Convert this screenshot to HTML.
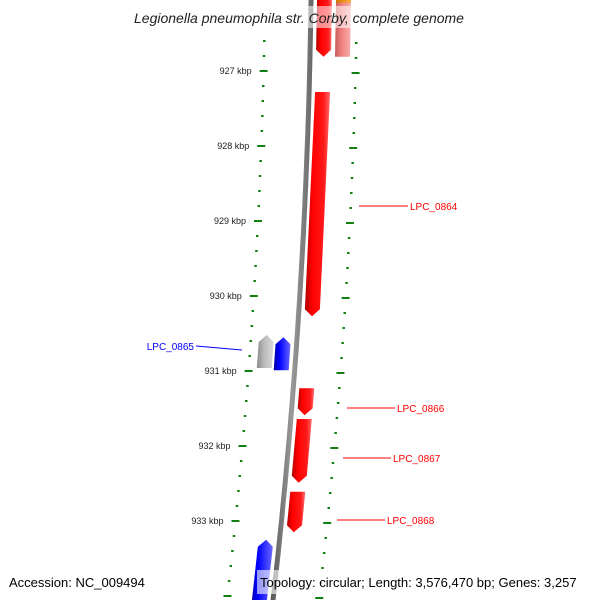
<!DOCTYPE html>
<html><head><meta charset="utf-8"><style>
body{margin:0;background:#fff}
svg{display:block;font-family:"Liberation Sans",sans-serif}
</style></head><body>
<svg id="map" width="600" height="600" viewBox="0 0 600 600">
<defs>
<linearGradient id="gRed" x1="0" x2="1"><stop offset="0" stop-color="#b00000"/><stop offset="0.3" stop-color="#ff0000"/><stop offset="0.75" stop-color="#ff1a1a"/><stop offset="1" stop-color="#ff7070"/></linearGradient>
<linearGradient id="gPink" x1="0" x2="1"><stop offset="0" stop-color="#c85a5a"/><stop offset="0.4" stop-color="#f08080"/><stop offset="1" stop-color="#f8b0b0"/></linearGradient>
<linearGradient id="gBlue" x1="0" x2="1"><stop offset="0" stop-color="#0000a0"/><stop offset="0.35" stop-color="#0000ff"/><stop offset="1" stop-color="#6a6aff"/></linearGradient>
<linearGradient id="gGray" x1="0" x2="1"><stop offset="0" stop-color="#8a8a8a"/><stop offset="0.4" stop-color="#b8b8b8"/><stop offset="1" stop-color="#dcdcdc"/></linearGradient>
<linearGradient id="gOrange" x1="0" x2="1"><stop offset="0" stop-color="#d07000"/><stop offset="1" stop-color="#ffb040"/></linearGradient>
<linearGradient id="gBack" x1="0" x2="1"><stop offset="0" stop-color="#555"/><stop offset="0.5" stop-color="#999"/><stop offset="1" stop-color="#666"/></linearGradient>
</defs>
<g id="layer"></g>
<rect x="110" y="6" width="380" height="22" fill="#fff" fill-opacity="0.55"/>
<text x="299" y="23" text-anchor="middle" font-size="14" font-style="italic" fill="#222">Legionella pneumophila str. Corby, complete genome</text>
<text x="9" y="587" font-size="13" fill="#000">Accession: NC_009494</text>
<rect x="257" y="570" width="336" height="24" fill="#fff" fill-opacity="0.6"/>
<text x="260" y="587" font-size="13" fill="#000">Topology: circular; Length: 3,576,470 bp; Genes: 3,257</text>
</svg>
<script>
// data (kbp)
const geneNames = ["gene-top","gene-top-ring2","gene-top-orange","LPC_0864","LPC_0866","LPC_0867","LPC_0868","LPC_0865","gene-gray","gene-bottom"];
const geneStart = [926.0, 926.0, 926.0, 927.28, 931.23, 931.64, 932.61, 930.55, 930.52, 933.25];
const geneEnd   = [926.81, 926.81, 926.09, 930.27, 931.59, 932.49, 933.15, 930.99, 930.96, 934.3];
const geneStrand= [1,1,1,1,1,1,1,-1,-1,-1];
const geneRing  = [0,1,1,0,0,0,0,0,1,0];
const geneColor = ["gRed","gPink","gOrange","gRed","gRed","gRed","gRed","gBlue","gGray","gBlue"];
const geneLabeled=[false,false,false,true,true,true,true,true,false,false];
const tickLabels = ["927 kbp","928 kbp","929 kbp","930 kbp","931 kbp","932 kbp","933 kbp"];
const tickValues = [927,928,929,930,931,932,933];

const yOf = k => 71 + (k-927)*75;
const B = y => 311 - 0.0133*y - 8.33e-5*y*y;
const NS="http://www.w3.org/2000/svg";
const layer=document.getElementById('layer');
function mk(t,a){const e=document.createElementNS(NS,t);for(const k in a)e.setAttribute(k,a[k]);layer.appendChild(e);return e;}

// backbone
let pts=[];for(let y=-5;y<=605;y+=10)pts.push((B(y)-2.5).toFixed(1)+","+y);
for(let y=605;y>=-5;y-=10)pts.push((B(y)+2.5).toFixed(1)+","+y);
const bb=mk('polygon',{points:pts.join(' '),fill:'url(#gBack)'});



// ticks
for(let k=925.6;k<=934.4;k+=0.2){
  const kk=Math.round(k*10)/10;const y=yOf(kk);
  if(y<30||y>598)continue;
  const major=Math.abs(kk-Math.round(kk))<0.01;
  const yi=y, yo=y+2;
  const xi=B(yi)-46, xo=B(yo)+46;
  const w=major?8:2.5;
  const t1=mk('line',{x1:xi-w/2,y1:yi,x2:xi+w/2,y2:yi,stroke:'#108010','stroke-width':2});
  
  
  const t2=mk('line',{x1:xo-w/2,y1:yo,x2:xo+w/2,y2:yo,stroke:'#108010','stroke-width':2});
  
  
}
tickValues.forEach((v,i)=>{
  const y=yOf(v);
  const t=mk('text',{x:B(y)-58,y:y+3,'text-anchor':'end','font-size':9,fill:'#222'});
  t.textContent=tickLabels[i];
  
  
});

// genes
geneNames.forEach((n,i)=>{
  const y0=yOf(geneStart[i]), y1=yOf(geneEnd[i]);
  const s=geneStrand[i], r=geneRing[i];
  const a = s>0 ? 6+r*19 : -21-r*17;
  const b = a+15;
  const head = 7;
  const L=y=>B(y)+a, R=y=>B(y)+b;
  let p;
  if(s>0){ // arrow pointing down at y1
    const yh=Math.max(y0,y1-head);
    p=[[L(y0),y0],[R(y0),y0],[R(yh),yh],[(L(y1)+R(y1))/2,y1],[L(yh),yh]];
  } else { // arrow up at y0
    const yh=Math.min(y1,y0+head);
    p=[[(L(y0)+R(y0))/2,y0],[R(yh),yh],[R(y1),y1],[L(y1),y1],[L(yh),yh]];
  }
  if(n==="gene-top-ring2"||n==="gene-top-orange") p=[[L(y0),y0],[R(y0),y0],[R(y1),y1],[L(y1),y1]];
  const g=mk('polygon',{points:p.map(q=>q[0].toFixed(1)+","+q[1].toFixed(1)).join(' '),fill:'url(#'+geneColor[i]+')'});
  
  
  if(geneLabeled[i]){
    const ym=(y0+y1)/2;
    const col=s>0?'#f00':'#00f';
    let lx1,lx2,ly1,ly2,tx,anchor;
    if(n==="LPC_0864"){ly1=ly2=206;lx1=359;lx2=408;tx=410;}
    else if(n==="LPC_0866"){ly1=ly2=408;lx1=347;lx2=395;tx=397;}
    else if(n==="LPC_0867"){ly1=ly2=458;lx1=343;lx2=391;tx=393;}
    else if(n==="LPC_0868"){ly1=ly2=520;lx1=337;lx2=385;tx=387;}
    else {lx1=242;ly1=350;lx2=196;ly2=346;tx=194;}
    const ln=mk('line',{x1:lx1,y1:ly1,x2:lx2,y2:ly2,stroke:col,'stroke-width':1});
    
    
    const t=mk('text',{x:tx,y:ly2+4,'font-size':10,fill:col,'text-anchor':s>0?'start':'end'});
    t.textContent=n;
    
    
  }
});
</script>
</body></html>
